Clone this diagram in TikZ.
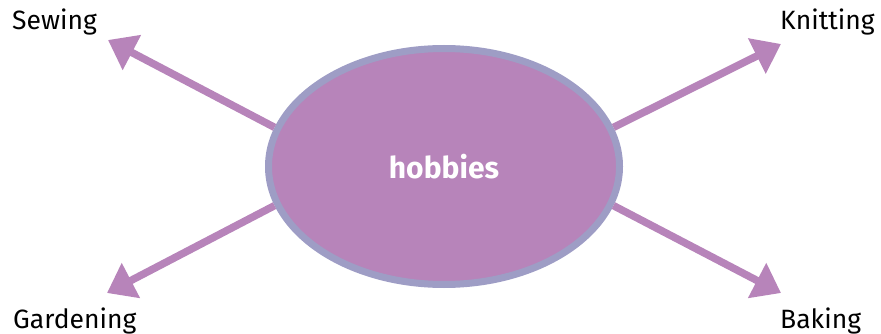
\documentclass[tikz,border=0pt]{standalone}
\usepackage{xcolor}
\usepackage{fontspec}
\setmainfont{Fira Sans}
\usetikzlibrary{shapes.geometric,arrows.meta}
\definecolor{hobbyfill}{HTML}{B784BA}
\definecolor{hobbyrim}{HTML}{9E9DC5}
\begin{document}
\begin{tikzpicture}[x=1pt,y=-1pt]
      \tikzstyle{hub} = [ellipse, minimum width=351pt, minimum height=236pt, inner sep=0pt, draw=hobbyrim, line width=7pt, fill=hobbyfill, text=white, font=\fontsize{30}{36}\selectfont\bfseries]
      \tikzstyle{hobby} = [anchor=base west, inner sep=0pt, font=\fontsize{26.5}{30}\selectfont]
      \tikzstyle{arrow} = [line width=7.5pt, draw=hobbyfill, -{Triangle[length=27pt,width=38pt]}]
      \useasboundingbox (0,0) rectangle (881,334);

      \node (hobbies) [hub] at (444,166.5) {hobbies};
      \node (sewing) [hobby] at (12,30) {Sewing};
      \node (knitting) [hobby] at (780,30) {Knitting};
      \node (gardening) [hobby] at (13,328) {Gardening};
      \node (baking) [hobby] at (780,328) {Baking};

      \coordinate (sewingtip) at (108,40);
      \coordinate (knittingtip) at (781,44);
      \coordinate (gardeningtip) at (107,293);
      \coordinate (bakingtip) at (781,293);

      \draw [arrow] (hobbies.167) -- (sewingtip);
      \draw [arrow] (hobbies.13) -- (knittingtip);
      \draw [arrow] (hobbies.193) -- (gardeningtip);
      \draw [arrow] (hobbies.347) -- (bakingtip);
    \end{tikzpicture}
\end{document}
